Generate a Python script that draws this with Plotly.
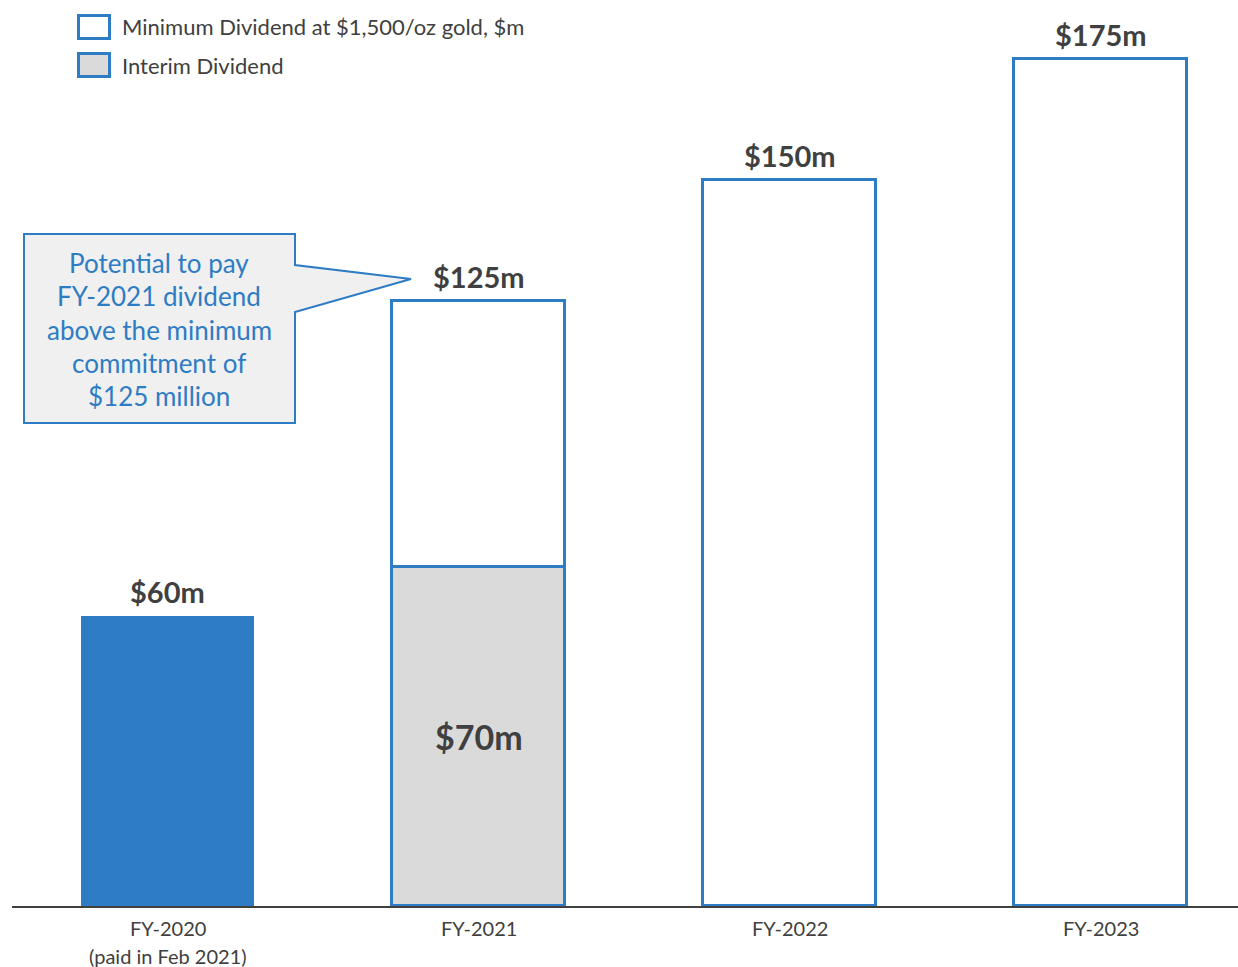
import plotly.graph_objects as go

# ---- data ----
categories = ["FY-2020", "FY-2021", "FY-2022", "FY-2023"]
tick_labels = [["FY-2020", "(paid in Feb 2021)"], ["FY-2021"], ["FY-2022"], ["FY-2023"]]
paid = [60, None, None, None]            # FY-2020 dividend paid
interim = [None, 70, None, None]         # Interim Dividend
minimum_total = [None, 125, 150, 175]    # Minimum Dividend at $1,500/oz gold
top_labels = ["$60m", "$125m", "$150m", "$175m"]
top_values = [60, 125, 150, 175]
interim_label = "$70m"

BLUE = "#2E7CC4"
GREY = "#DADADA"
TXT = "#404040"
FONT = "Lato"

# minimum bar segment stacked above interim
minimum_seg = [None if t is None else t - (i or 0) for t, i in zip(minimum_total, interim)]

W, H = 1238, 967
ML, MR, MT, MB = 12, 0, 11, 61
PW = W - ML - MR
PH = H - MT - MB
BAR_W = 0.558

def X(px):
    return (px - ML) / PW

def Y(py):
    return (H - MB - py) / PH

fig = go.Figure()
fig.add_trace(go.Bar(x=categories, y=paid, width=BAR_W, marker=dict(color=BLUE, line=dict(width=0)),
                     showlegend=False, name="Paid"))
fig.add_trace(go.Bar(x=categories, y=interim, width=BAR_W,
                     marker=dict(color=GREY, line=dict(color=BLUE, width=3.5)),
                     showlegend=False, name="Interim Dividend"))
fig.add_trace(go.Bar(x=categories, y=minimum_seg, width=BAR_W,
                     marker=dict(color="white", line=dict(color=BLUE, width=3.5)),
                     showlegend=False, name="Minimum Dividend at $1,500/oz gold, $m"))

annotations = []
for c, v, t in zip(categories, top_values, top_labels):
    annotations.append(dict(x=c, y=v, text=f"<b>{t}</b>", showarrow=False, yanchor="bottom",
                            yshift=5, font=dict(family=FONT, size=29, color=TXT)))
annotations.append(dict(x=categories[1], y=interim[1] / 2, text=f"<b>{interim_label}</b>", showarrow=False,
                        font=dict(family=FONT, size=34, color=TXT)))

# category labels under the axis
for c, lines in zip(categories, tick_labels):
    for j, ln in enumerate(lines):
        annotations.append(dict(x=c, xref="x", yref="paper", y=Y(928 + j * 28), yanchor="middle",
                                text=ln, showarrow=False, font=dict(family=FONT, size=20, color=TXT)))

# legend (manual)
legend_items = [("Minimum Dividend at $1,500/oz gold, $m", "white", 27),
                ("Interim Dividend", GREY, 65)]
shapes = []
for text, fill, cy in legend_items:
    shapes.append(dict(type="rect", xref="paper", yref="paper",
                       x0=X(78.5), x1=X(109.5), y0=Y(cy - 11.5), y1=Y(cy + 11.5),
                       fillcolor=fill, line=dict(color=BLUE, width=3)))
    annotations.append(dict(xref="paper", yref="paper", x=X(120), y=Y(cy), xanchor="left", yanchor="middle",
                            text=text, showarrow=False, font=dict(family=FONT, size=22, color=TXT)))

# callout
path = (f"M {X(24)},{Y(234)} L {X(295)},{Y(234)} L {X(295)},{Y(265)} L {X(411)},{Y(279)} "
        f"L {X(295)},{Y(312)} L {X(295)},{Y(423)} L {X(24)},{Y(423)} Z")
shapes.append(dict(type="path", xref="paper", yref="paper", path=path,
                   fillcolor="#F0F0F0", line=dict(color=BLUE, width=2)))
callout_lines = ["Potential to pay", "FY-2021 dividend", "above the minimum", "commitment of", "$125 million"]
for i, ln in enumerate(callout_lines):
    annotations.append(dict(xref="paper", yref="paper", x=X(159), y=Y(263 + i * 33.3),
                            xanchor="center", yanchor="middle", text=ln, showarrow=False,
                            font=dict(family=FONT, size=26, color=BLUE)))

fig.update_layout(
    width=W, height=H, barmode="stack", bargap=0,
    margin=dict(l=ML, r=MR, t=MT, b=MB),
    paper_bgcolor="white", plot_bgcolor="white",
    xaxis=dict(type="category", range=[-0.5, -0.5 + PW / 311], showticklabels=False,
               showline=True, linecolor=TXT, linewidth=1.5, showgrid=False, ticks="", fixedrange=True),
    yaxis=dict(range=[0, 185], visible=False, showgrid=False, zeroline=False),
    shapes=shapes, annotations=annotations,
)
fig.write_html("out.html")
